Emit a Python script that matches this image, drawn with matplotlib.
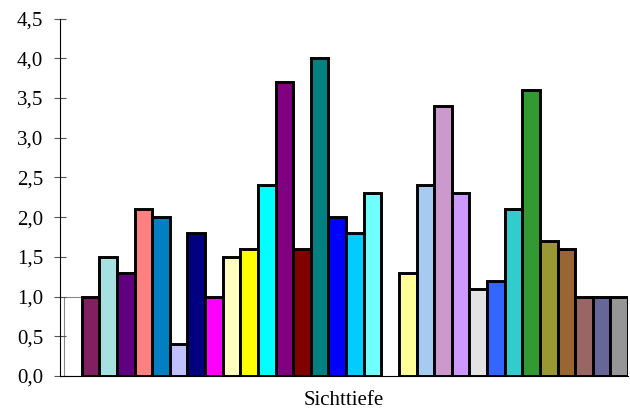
import matplotlib.pyplot as plt
from matplotlib.ticker import FuncFormatter

plt.rcParams['font.family'] = ['Liberation Serif', 'DejaVu Serif']

# first group (18 bars, the first one white), then a gap, then second group
values1 = [1.0, 1.0, 1.5, 1.3, 2.1, 2.0, 0.4, 1.8, 1.0, 1.5, 1.6, 2.4, 3.7, 1.6, 4.0, 2.0, 1.8, 2.3]
colors1 = ['#FFFFFF', '#802060', '#A6E0E0', '#600080', '#FF8080', '#0080C0', '#C0C0FF', '#000080',
           '#FF00FF', '#FFFFC0', '#FFFF00', '#00FFFF', '#800080', '#800000', '#008080', '#0000FF',
           '#00CCFF', '#70FFFF']
values2 = [1.3, 2.4, 3.4, 2.3, 1.1, 1.2, 2.1, 3.6, 1.7, 1.6, 1.0, 1.0, 1.0]
colors2 = ['#FFFF99', '#A6CAF0', '#CC99CC', '#CC99FF', '#E3E3E3', '#3366FF', '#33CCCC', '#339933',
           '#999933', '#996633', '#996666', '#666699', '#969696']
xlabel = 'Sichttiefe'

fig = plt.figure(figsize=(6.3, 4.12), dpi=100)
ax = fig.add_axes([60/630, 36/412, 568/630, (376-18.5)/412])

x1 = list(range(len(values1)))
x2 = [len(values1) + 1 + i for i in range(len(values2))]

ax.bar(x1[0], values1[0], width=1.0, color=colors1[0], edgecolor='#888888', linewidth=0.8)
ax.bar(x1[1:], values1[1:], width=1.0, color=colors1[1:], edgecolor='black', linewidth=2.1)
ax.bar(x2, values2, width=1.0, color=colors2, edgecolor='black', linewidth=2.1)

ax.set_xlim(-0.5 - 4/17.6, x2[-1] + 0.5)
ax.set_ylim(0, 4.5)
ax.set_yticks([i * 0.5 for i in range(10)])
ax.yaxis.set_major_formatter(FuncFormatter(lambda v, p: f'{v:.1f}'.replace('.', ',')))
ax.tick_params(axis='y', direction='inout', length=8, width=0.8, color='#555555',
               labelsize=15, pad=8)
ax.set_xticks([])
ax.spines['top'].set_visible(False)
ax.spines['right'].set_visible(False)
ax.spines['left'].set_linewidth(0.8)
ax.spines['bottom'].set_linewidth(0.8)
ax.set_xlabel(xlabel, fontsize=15, labelpad=11)

fig.savefig('out.png', dpi=100)
